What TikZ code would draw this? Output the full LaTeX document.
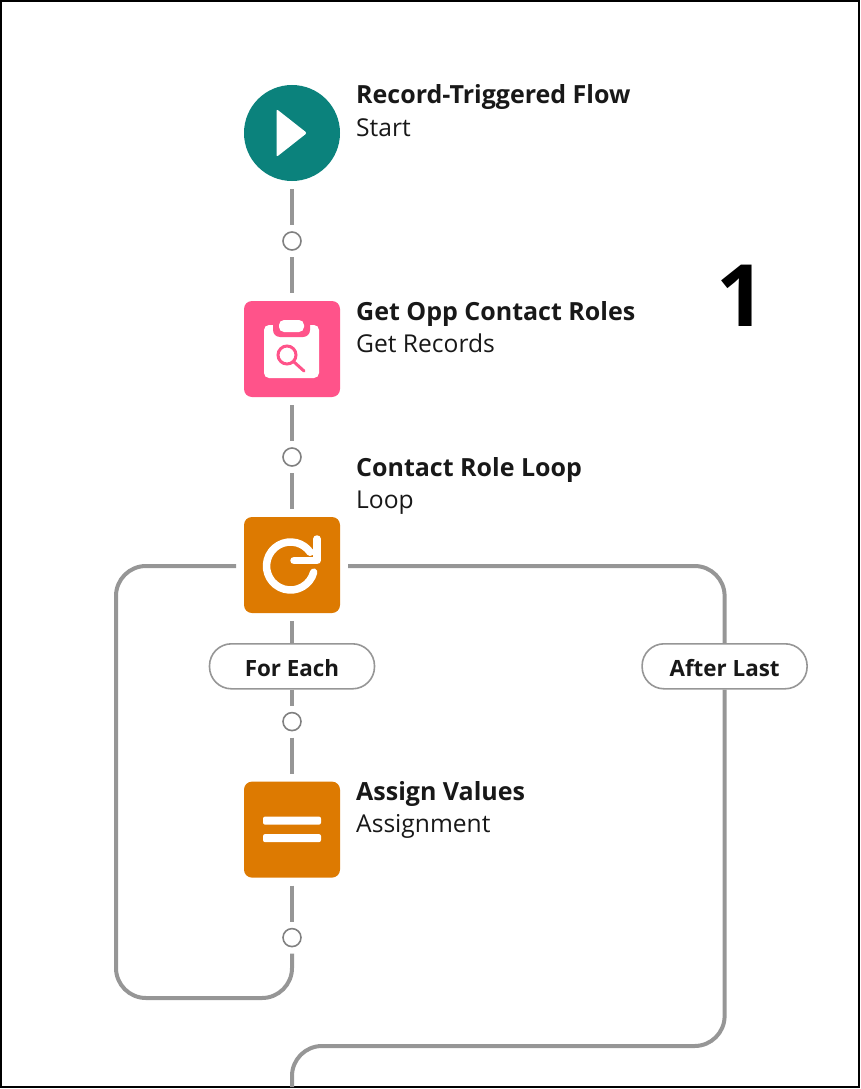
\documentclass[tikz,border=0pt]{standalone}
\usepackage{fontspec}
\setmainfont{Open Sans}
\usetikzlibrary{positioning, calc}
\definecolor{startteal}{HTML}{0B827C}
\definecolor{getpink}{HTML}{FF538A}
\definecolor{logicorange}{HTML}{DD7A01}
\definecolor{linkgray}{HTML}{969696}
\definecolor{textblack}{HTML}{181818}

\begin{document}
\begin{tikzpicture}[
  x = 1pt, y = 1pt,
  node distance = 36pt,
  %
  % ── Node styles ─────────────────────────────────────────────────
  icon/.style     = {minimum size=96pt, inner sep=0pt, outer sep=8pt, rounded corners=8pt},
  startnode/.style = {circle, minimum size=96pt, inner sep=0pt, outer sep=8pt, fill=startteal},
  getnode/.style  = {icon, fill=getpink},
  logicnode/.style = {icon, fill=logicorange},
  addpoint/.style = {circle, draw=linkgray!85!black, line width=1.6pt, minimum size=18pt,
                     inner sep=0pt, outer sep=7pt},
  pill/.style     = {draw=linkgray, line width=1.6pt, rounded corners=22pt, fill=white,
                     minimum width=165pt, minimum height=45pt, inner sep=0pt, outer sep=0.8pt,
                     text height=20pt, text depth=0.6pt,
                     font=\fontsize{22.4}{24}\selectfont\bfseries, text=textblack},
  title/.style    = {anchor=base west, inner sep=0pt,
                     font=\fontsize{25}{28}\selectfont\bfseries, text=textblack},
  kind/.style     = {anchor=base west, inner sep=0pt,
                     font=\fontsize{24.6}{28}\selectfont, text=textblack},
  link/.style     = {draw=linkgray, line width=4pt},
  glyph/.style    = {draw=white, line width=7.5pt, line cap=round, line join=round},
]
\useasboundingbox (0,0) rectangle (860,-1089);
\draw[line width=2pt] (1,-1) rectangle (859,-1087);

%% ── Main column ──────────────────────────────────────────────────
\node[startnode] (start) at (292,-133) {};
\node[addpoint, below=of start] (add-a) {};
\node[getnode, below=of add-a] (get) {};
\node[addpoint, below=of get] (add-b) {};
\node[logicnode, below=of add-b] (loop) {};
\node[pill, below=22pt of loop] (foreach) {For Each};
\node[addpoint, below=16pt of foreach] (add-c) {};
\node[logicnode, below=of add-c] (assign) {};
\node[addpoint, below=of assign] (add-d) {};
\node[pill, right=266pt of foreach] (afterlast) {After Last};

%% ── Labels ───────────────────────────────────────────────────────
\node[title] (start-title) at ($(start.center)+(64,29)$) {Record-Triggered Flow};
\node[kind] (start-kind) at ($(start-title.base west)+(0,-32)$) {Start};
\node[title] (get-title) at ($(get.center)+(64,29)$) {Get Opp Contact Roles};
\node[kind] (get-kind) at ($(get-title.base west)+(0,-32)$) {Get Records};
\node[title] (loop-title) at ($(loop.center)+(64,89)$) {Contact Role Loop};
\node[kind] (loop-kind) at ($(loop-title.base west)+(0,-32)$) {Loop};
\node[title] (assign-title) at ($(assign.center)+(64,29)$) {Assign Values};
\node[kind] (assign-kind) at ($(assign-title.base west)+(0,-32)$) {Assignment};
\node[anchor=base, inner sep=0pt, font=\fontsize{86}{90}\selectfont\bfseries] (number) at (741,-326) {1};

%% ── Connectors ───────────────────────────────────────────────────
\coordinate (back-turn) at (116,-998);
\coordinate (last-turn) at (292,-1046);
\coordinate (flow-exit) at (292,-1087);

\draw[link] (start) -- (add-a);
\draw[link] (add-a) -- (get);
\draw[link] (get) -- (add-b);
\draw[link] (add-b) -- (loop);
\draw[link] (loop) -- (foreach);
\draw[link] (foreach) -- (add-c);
\draw[link] (add-c) -- (assign);
\draw[link] (assign) -- (add-d);
\draw[link, rounded corners=30pt] (add-d) |- (back-turn) |- ([yshift=-1pt]loop.west);
\draw[link, rounded corners=30pt] ([yshift=-1pt]loop.east) -| (afterlast.north);
\draw[link, rounded corners=30pt] (afterlast.south) |- (last-turn) -- (flow-exit);

%% ── Icons ────────────────────────────────────────────────────────
\fill[white, rounded corners=2pt, shift={(start.center)}]
  (-15.5,24) -- (15,0) -- (-15.5,-24) -- cycle;

\begin{scope}[shift={(get.center)}]
  \fill[white, rounded corners=5pt] (-28,24) rectangle (27,-29);
  \fill[getpink, rounded corners=7pt] (-19,34) rectangle (18,12);
  \fill[white, rounded corners=5pt] (-13,29) rectangle (12,17);
  \draw[getpink, line width=3pt] (-5,-6) circle (9pt);
  \draw[getpink, line width=3pt, line cap=round] (2,-13) -- (12,-22);
\end{scope}

\begin{scope}[shift={(loop.center)}]
  \draw[glyph] (-1.5,-1) ++(-15:24pt) arc[start angle=-15, end angle=-325, radius=24pt];
  \draw[glyph] (2,4.5) -- (25,4.5) -- (25,26);
\end{scope}

\begin{scope}[shift={(assign.center)}]
  \fill[white, rounded corners=2pt] (-29,13) rectangle (29,5);
  \fill[white, rounded corners=2pt] (-29,-4.5) rectangle (29,-12.5);
\end{scope}

\end{tikzpicture}
\end{document}
